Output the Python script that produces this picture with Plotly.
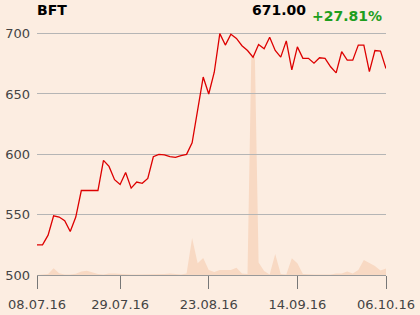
import pandas as pd
import plotly.graph_objects as go

# trading days (Ferragosto 15.08 closed)
days = [d for d in pd.bdate_range("2016-07-08", "2016-10-06") if d.strftime("%m-%d") != "08-15"]
dates = [d.strftime("%d.%m.%y") for d in days]

price = [525, 525, 533, 549, 548, 545, 536, 548, 570, 570,
         570, 570, 595, 590, 579, 575, 585, 572, 577, 576,
         580, 598, 600, 599.5, 598, 597.5, 599, 600, 609.5, 636,
         664, 650, 668, 700, 690.5, 699.5, 696, 690, 686, 680.5,
         691, 687.5, 697, 686, 680.5, 694, 670, 689, 679.5, 679.5,
         675.5, 680, 679.5, 672.5, 667.5, 685, 678, 678, 690.5, 690.5,
         668.5, 686, 685.5, 671]

volume = [0, 500, 1000, 6700, 1700, 500, 500, 1300, 3500, 4300,
          3000, 1000, 500, 1500, 1500, 1000, 500, 500, 500, 500,
          500, 1000, 1000, 1000, 1500, 1000, 500, 1500, 37000, 11700,
          17000, 5000, 3000, 5000, 5000, 5000, 7300, 1500, 1000, 320000,
          12500, 4000, 500, 21000, 1000, 500, 16700, 11700, 1000, 500,
          500, 500, 500, 500, 1500, 1500, 3500, 1500, 5000, 15000,
          12000, 9000, 4500, 6500]

tick_dates = ["08.07.16", "29.07.16", "23.08.16", "14.09.16", "06.10.16"]
y_ticks = [500, 550, 600, 650, 700]

ticker = "BFT"
last_txt = "671.00"
chg_txt = "+27.81%"

BG = "#fcede1"
FONT = "DejaVu Sans"

fig = go.Figure()
fig.add_trace(go.Scatter(x=dates, y=volume, xaxis="x", yaxis="y",
                         mode="lines", line=dict(width=0, color="#f8d8c0"),
                         fill="tozeroy", fillcolor="#f8d9c3", hoverinfo="skip"))
fig.add_trace(go.Scatter(x=dates, y=price, xaxis="x", yaxis="y2",
                         mode="lines", line=dict(width=1.3, color="#dd0000")))

fig.update_layout(
    width=420, height=315,
    margin=dict(l=37, r=34, t=30, b=40, autoexpand=False),
    paper_bgcolor=BG, plot_bgcolor="rgba(0,0,0,0)",
    showlegend=False,
    font=dict(family=FONT, size=13, color="#444444"),
    xaxis=dict(type="category", range=[0, len(dates) - 1], automargin=False,
               tickmode="array", tickvals=tick_dates, ticktext=tick_dates,
               showgrid=False, showline=True, linecolor="#999999", linewidth=1,
               ticks="outside", ticklen=13, tickcolor="#777777", tickwidth=1,
               ticklabelstandoff=4,
               tickfont=dict(size=13, color="#444444"), anchor="y"),
    yaxis=dict(domain=[0, 0.89], range=[0, 218000], visible=False, automargin=False,
               showgrid=False, zeroline=False),
    yaxis2=dict(domain=[0, 1], range=[500, 703], anchor="x", automargin=False,
                tickvals=y_ticks, showgrid=True, gridcolor="#b5b5b5", gridwidth=1,
                zeroline=False, showline=False, ticks="",
                ticklabelstandoff=6,
                tickfont=dict(size=13, color="#444444")),
    annotations=[
        dict(text="<b>%s</b>" % ticker, xref="paper", yref="paper", x=-0.006, y=1.0816,
             xanchor="left", yanchor="middle", showarrow=False,
             font=dict(family=FONT, size=14, color="#000000")),
        dict(text="<b>%s</b>" % last_txt, xref="paper", yref="paper", x=0.7765, y=1.08,
             xanchor="right", yanchor="middle", showarrow=False,
             font=dict(family=FONT, size=14, color="#000000")),
        dict(text="<b>%s</b>" % chg_txt, xref="paper", yref="paper", x=0.9957, y=1.0563,
             xanchor="right", yanchor="middle", showarrow=False,
             font=dict(family=FONT, size=14, color="#1e9e1e")),
    ],
)

fig.write_html("out.html")
